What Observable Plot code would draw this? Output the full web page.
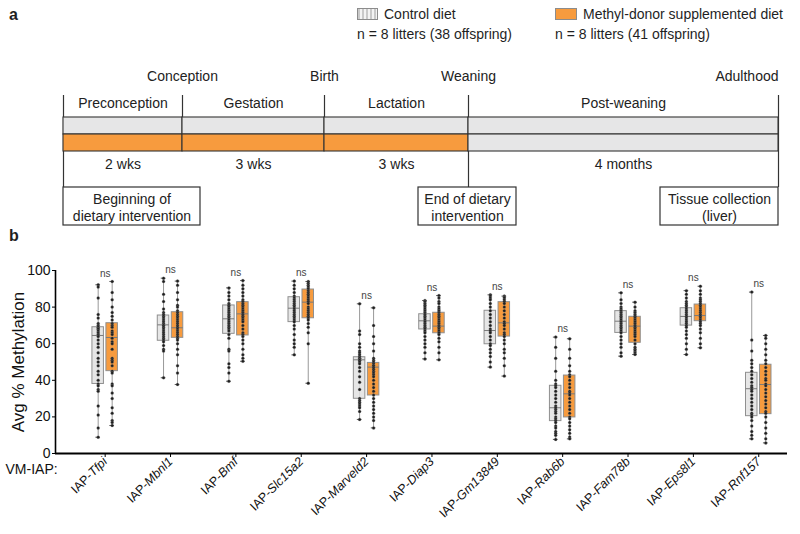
<!DOCTYPE html>
<html><head><meta charset="utf-8">
<script src="https://cdn.jsdelivr.net/npm/d3@7"></script>
<script src="https://cdn.jsdelivr.net/npm/@observablehq/plot@0.6"></script>
<style>
body{margin:0;background:#fff;font-family:"Liberation Sans",Arial,sans-serif;color:#1f1f1f}
#fig{position:relative;width:800px;height:534px;overflow:hidden;background:#fff}
#fig svg{position:absolute;left:0}
.t{position:absolute;white-space:nowrap;font-size:14px;line-height:14px}
.sw{position:absolute;box-sizing:border-box;border:1px solid #8c8c8c}
</style></head>
<body><div id="fig"></div>
<script>
// ---------- panel a : timeline ----------
const stages = ["Preconception", "Gestation", "Lactation", "Post-weaning"];
const stageStartWeek = [0, 2, 5, 8];
const stageEndWeek = [2, 5, 8, 25];
const stageDuration = ["2 wks", "3 wks", "3 wks", "4 months"];
const mdDietInStage = [true, true, true, false];
const events = ["", "Conception", "Birth", "Weaning", "Adulthood"];
const eventWeek = [0, 2, 5, 8, 25];
const diets = ["Control diet", "Methyl-donor supplemented diet"];
const litterText = ["n = 8 litters (38 offspring)", "n = 8 litters (41 offspring)"];

// ---------- panel b : box plots ----------
const genes = ["Tfpi", "Mbnl1", "Bmf", "Slc15a2", "Marveld2", "Diap3", "Gm13849", "Rab6b", "Fam78b", "Eps8l1", "Rnf157"];
const ctrlMin = [8.9, 41.4, 39.5, 53.9, 18.6, 51.7, 47.2, 7.7, 53.2, 54.1, 8.0];
const ctrlQ1 = [38.0, 61.6, 65.4, 71.8, 29.9, 67.8, 59.7, 17.7, 65.9, 69.9, 20.4];
const ctrlMedian = [64.5, 70.3, 73.6, 79.4, 51.2, 72.5, 67.2, 25.0, 72.3, 74.9, 35.4];
const ctrlQ3 = [69.0, 75.4, 80.9, 85.4, 52.6, 76.1, 78.0, 37.0, 77.8, 79.4, 44.1];
const ctrlMax = [92.2, 95.8, 90.5, 94.2, 81.8, 83.6, 86.7, 63.6, 87.8, 89.0, 88.2];
const mdMin = [15.3, 37.7, 50.4, 38.4, 14.0, 51.2, 42.3, 8.0, 54.1, 57.8, 5.8];
const mdQ1 = [45.0, 63.2, 64.5, 73.9, 31.7, 65.7, 63.9, 19.7, 60.5, 72.3, 21.5];
const mdMedian = [63.4, 68.7, 76.3, 82.7, 47.2, 69.6, 71.4, 32.6, 69.6, 75.4, 37.7];
const mdQ3 = [71.2, 77.2, 82.7, 89.6, 49.5, 76.9, 82.7, 42.6, 74.7, 81.4, 48.5];
const mdMax = [94.0, 94.2, 94.5, 94.0, 79.6, 86.3, 86.0, 62.7, 82.7, 91.4, 64.5];
const ctrlPoints = [
  [92.2, 91, 85, 76, 74, 71, 70, 69, 68, 68, 67, 66, 65, 64, 62, 60, 58, 55, 52, 50, 48, 45, 43, 40, 38, 37, 35, 34, 26, 21, 14, 8.9],
  [95.8, 94, 87, 83, 79, 77, 76, 75, 74, 73, 72, 71, 70, 70, 69, 68, 67, 66, 65, 64, 63, 62, 61, 59, 57, 56, 41.4],
  [90.5, 88, 86, 84, 82, 81, 80, 79, 78, 77, 76, 75, 74, 73, 72, 71, 70, 69, 68, 67, 65, 63, 57, 56, 49, 47, 44, 39.5],
  [94.2, 92, 90, 88, 86, 85, 84, 83, 82, 81, 80, 79, 78, 77, 76, 75, 74, 73, 72, 70, 68, 65, 62, 60, 58, 53.9],
  [81.8, 67, 65, 60, 58, 56, 55, 54, 53, 52, 52, 51, 51, 50, 49, 47, 45, 42, 39, 35, 30, 29, 28, 27, 26, 25, 23, 18.6],
  [83.6, 83, 82, 81, 80, 79, 78, 77, 76, 75, 74, 73, 72, 71, 70, 69, 68, 67, 66, 64, 62, 60, 58, 55, 51.7],
  [86.7, 86, 85, 84, 82, 80, 78, 76, 74, 72, 70, 68, 67, 66, 64, 62, 60, 59, 57, 55, 53, 50, 47.2],
  [63.6, 58, 52, 45, 40, 38, 37, 36, 34, 32, 30, 28, 26, 25, 24, 23, 22, 20, 19, 18, 17, 15, 14, 12, 11, 10, 7.7],
  [87.8, 84, 82, 80, 79, 78, 77, 76, 75, 74, 73, 72, 71, 70, 69, 68, 67, 66, 64, 62, 60, 58, 55, 53.2],
  [89.0, 87, 85, 83, 82, 81, 80, 79, 78, 77, 76, 75, 74, 73, 72, 71, 70, 69, 67, 65, 63, 60, 57, 54.1],
  [88.2, 62, 56, 51, 49, 47, 45, 43, 41, 39, 37, 36, 35, 34, 32, 30, 28, 26, 24, 22, 21, 20, 18, 15, 12, 10, 8.0]
];
const mdPoints = [
  [94.0, 88, 84, 80, 77, 75, 73, 71, 70, 69, 67, 66, 65, 63, 61, 60, 57, 52, 51, 50, 48, 45, 44, 38, 37, 33, 30, 25, 22, 18, 17, 15.3],
  [94.2, 92, 88, 84, 81, 80, 78, 77, 76, 75, 74, 73, 72, 71, 70, 69, 68, 67, 66, 65, 64, 63, 62, 60, 57, 54, 48, 44, 37.7],
  [94.5, 92, 90, 88, 86, 84, 83, 82, 81, 80, 79, 78, 77, 76, 75, 74, 73, 72, 70, 68, 66, 65, 64, 62, 60, 57, 54, 52, 50.4],
  [94.0, 93, 92, 91, 90, 89, 88, 87, 86, 85, 84, 83, 82, 80, 79, 78, 77, 76, 75, 74, 73, 71, 69, 66, 60, 38.4],
  [79.6, 70, 64, 60, 56, 52, 51, 50, 49, 48, 48, 47, 46, 45, 44, 43, 42, 40, 38, 36, 34, 32, 30, 28, 26, 24, 22, 20, 18, 14.0],
  [86.3, 85, 83, 82, 80, 79, 78, 77, 76, 75, 74, 73, 72, 71, 70, 69, 68, 67, 66, 65, 63, 61, 58, 55, 51.2],
  [86.0, 85.5, 85, 84, 83, 82, 80, 78, 76, 74, 72, 71, 70, 68, 66, 65, 64, 62, 60, 57, 55, 52, 48, 42.3],
  [62.7, 57, 52, 48, 45, 43, 42, 40, 38, 36, 34, 33, 32, 30, 28, 26, 24, 22, 20, 19, 17, 15, 13, 11, 9, 8.0],
  [82.7, 80, 78, 77, 76, 75, 74, 73, 72, 71, 70, 69, 68, 67, 66, 65, 64, 62, 60, 58, 57, 56, 55, 54.1],
  [91.4, 89, 87, 85, 84, 83, 82, 81, 80, 79, 78, 77, 76, 75, 74, 73, 72, 71, 70, 68, 66, 63, 60, 57.8],
  [64.5, 63, 60, 57, 54, 51, 49, 47, 45, 43, 41, 40, 38, 37, 35, 33, 31, 29, 27, 25, 23, 22, 20, 17, 14, 11, 8, 5.8]
];
const yTicks = [0, 20, 40, 60, 80, 100];

const ORANGE = "#f79b3e", GREY = "#e6e6e7", LINE = "#333";
const FONT = "'Liberation Sans', Arial, sans-serif";
const fig = document.getElementById("fig");

// ---------- panel a ----------
const stageRows = stages.map((s, i) => ({stage: s, start: stageStartWeek[i], end: stageEndWeek[i], dur: stageDuration[i], md: mdDietInStage[i]}));
const bandRows = [];
stageRows.forEach(s => {
  bandRows.push({diet: diets[0], start: s.start, end: s.end, fill: GREY});
  bandRows.push({diet: diets[1], start: s.start, end: s.end, fill: s.md ? ORANGE : GREY});
});
const eventRows = events.map((e, i) => ({event: e, week: eventWeek[i], long: i === 0 || i >= 3}));
const T = {frameAnchor: "top", lineAnchor: "middle", fontSize: 14};

const timeline = Plot.plot({
  width: 800, height: 175, margin: 0,
  style: {fontFamily: FONT, fontSize: "14px", background: "none", color: "#222"},
  x: {type: "linear", domain: eventWeek, range: [63, 182, 324, 468, 778], axis: null},
  y: {type: "band", domain: diets, range: [57, 91], padding: 0, axis: null},
  marks: [
    Plot.ruleX(eventRows.filter(d => d.long), {x: "week", insetTop: 35, insetBottom: 48, stroke: LINE, strokeWidth: 1.2}),
    Plot.ruleX(eventRows.filter(d => !d.long), {x: "week", insetTop: 35, insetBottom: 84, stroke: LINE, strokeWidth: 1.2}),
    Plot.barX(bandRows, {x1: "start", x2: "end", y: "diet", fill: "fill", stroke: LINE, strokeWidth: 1.1}),
    Plot.text(eventRows.filter(d => d.week < 25), {...T, x: "week", text: "event", dy: 16}),
    Plot.text(eventRows.filter(d => d.week === 25), {...T, x: "week", text: "event", dy: 16, textAnchor: "end"}),
    Plot.text(stageRows, {...T, x: d => (d.start + d.end) / 2, text: "stage", dy: 43}),
    Plot.text(stageRows, {...T, x: d => (d.start + d.end) / 2, text: "dur", dy: 104}),
    Plot.rect([eventWeek[0]], {x1: d => d, x2: d => d, insetLeft: 0, insetRight: -137, insetTop: 127, insetBottom: 10, fill: "white", stroke: LINE, strokeWidth: 1.2}),
    Plot.rect([eventWeek[3]], {x1: d => d, x2: d => d, insetLeft: -50, insetRight: -48, insetTop: 127, insetBottom: 10, fill: "white", stroke: LINE, strokeWidth: 1.2}),
    Plot.rect([eventWeek[4]], {x1: d => d, x2: d => d, insetLeft: -118, insetRight: 0, insetTop: 127, insetBottom: 10, fill: "white", stroke: LINE, strokeWidth: 1.2}),
    Plot.text([eventWeek[0]], {...T, x: d => d, text: () => "Beginning of\ndietary intervention", dy: 146.5, dx: 68.5, lineHeight: 1.2}),
    Plot.text([eventWeek[3]], {...T, x: d => d, text: () => "End of dietary\nintervention", dy: 146.5, dx: -1, lineHeight: 1.2}),
    Plot.text([eventWeek[4]], {...T, x: d => d, text: () => "Tissue collection\n(liver)", dy: 146.5, dx: -59, lineHeight: 1.2})
  ]
});
timeline.style.top = "60px";
fig.appendChild(timeline);

// ---------- panel b ----------
const xMin = -0.76, xMax = 10.44;
const off = 0.107, hw = 0.088, cap = 0.035;
function rows(mn, q1, med, q3, mx, shift) {
  return genes.map((g, i) => ({i, x: i + shift, min: mn[i], q1: q1[i], med: med[i], q3: q3[i], max: mx[i]}));
}
const ctrlRows = rows(ctrlMin, ctrlQ1, ctrlMedian, ctrlQ3, ctrlMax, -off);
const mdRows = rows(mdMin, mdQ1, mdMedian, mdQ3, mdMax, off);
const allRows = ctrlRows.concat(mdRows);
const pts = [];
ctrlPoints.forEach((arr, i) => arr.forEach(v => pts.push({x: i - off, y: v})));
mdPoints.forEach((arr, i) => arr.forEach(v => pts.push({x: i + off, y: v})));
const nsRows = genes.map((g, i) => ({x: i, y: Math.max(ctrlMax[i], mdMax[i])}));

const boxes = Plot.plot({
  width: 800, height: 294, marginTop: 30, marginBottom: 81, marginLeft: 55, marginRight: 13,
  style: {fontFamily: FONT, fontSize: "14px", background: "none", color: "#111", overflow: "visible"},
  x: {type: "linear", domain: [xMin, xMax]},
  y: {domain: [0, 100]},
  marks: [
    Plot.ruleX(allRows, {x: "x", y1: "min", y2: "max", stroke: "#8c8c8c", strokeWidth: 0.9}),
    Plot.ruleY(allRows, {y: "min", x1: d => d.x - cap, x2: d => d.x + cap, stroke: "#555", strokeWidth: 1}),
    Plot.ruleY(allRows, {y: "max", x1: d => d.x - cap, x2: d => d.x + cap, stroke: "#555", strokeWidth: 1}),
    Plot.rect(ctrlRows, {x1: d => d.x - hw, x2: d => d.x + hw, y1: "q1", y2: "q3", fill: "#e2e2e2", fillOpacity: 0.85, stroke: "#8f8f8f", strokeWidth: 1}),
    Plot.rect(mdRows, {x1: d => d.x - hw, x2: d => d.x + hw, y1: "q1", y2: "q3", fill: ORANGE, stroke: "#8f8f8f", strokeWidth: 1}),
    Plot.ruleY(allRows, {y: "med", x1: d => d.x - hw, x2: d => d.x + hw, stroke: "#7a7a7a", strokeWidth: 1}),
    Plot.dot(pts, {x: "x", y: "y", r: 1.5, fill: "#1e1e1e", stroke: "#888", strokeWidth: 0.5, strokeOpacity: 0.6}),
    Plot.text(nsRows, {x: "x", y: "y", text: () => "ns", dy: -8, fontSize: 10, fill: "#444"}),
    Plot.ruleY([0], {stroke: "#000", strokeWidth: 2}),
    Plot.ruleX([xMin], {y1: 0, y2: 100, stroke: "#000", strokeWidth: 1.6}),
    Plot.axisY({ticks: yTicks, tickSize: 3, tickPadding: 2, fontSize: 14, label: null, stroke: "#000"}),
    Plot.axisX({ticks: genes.map((g, i) => i), tickFormat: i => "IAP-" + genes[i], tickRotate: -45, tickSize: 4, tickPadding: 2, fontSize: 12.5, label: null, stroke: "#000"}),
    Plot.text(["Avg % Methylation"], {frameAnchor: "left", dx: -37, rotate: -90, text: d => d, textAnchor: "middle", lineAnchor: "middle", fontSize: 17, fill: "#111"}),
    Plot.text(["VM-IAP:"], {frameAnchor: "bottom-left", dx: -50, dy: 16, text: d => d, textAnchor: "start", lineAnchor: "middle", fontSize: 14, fill: "#111"})
  ]
});
boxes.style.top = "240px";
fig.appendChild(boxes);
// italic gene names
boxes.querySelectorAll('g[aria-label="x-axis tick label"] text').forEach(t => {
  const s = t.textContent;
  if (s.startsWith("IAP-")) {
    t.textContent = "IAP-";
    const ts = document.createElementNS("http://www.w3.org/2000/svg", "tspan");
    ts.setAttribute("font-style", "italic");
    ts.textContent = s.slice(4);
    t.appendChild(ts);
  }
});

// ---------- html labels / legend ----------
function addText(txt, left, top, extra) {
  const d = document.createElement("div");
  d.className = "t"; d.textContent = txt;
  d.style.left = left + "px"; d.style.top = top + "px";
  if (extra) Object.assign(d.style, extra);
  fig.appendChild(d);
}
function addSwatch(left, top, w, h, bg) {
  const d = document.createElement("div");
  d.className = "sw";
  Object.assign(d.style, {left: left + "px", top: top + "px", width: w + "px", height: h + "px", background: bg});
  fig.appendChild(d);
}
addText("a", 9, 7, {fontWeight: "bold", fontSize: "16px", lineHeight: "16px"});
addText("b", 9, 228, {fontWeight: "bold", fontSize: "16px", lineHeight: "16px"});
addSwatch(357, 8, 21, 12, "repeating-linear-gradient(90deg,#c9c9c9 0 2px,#f3f3f3 2px 4px)");
addText(diets[0], 384, 7);
addText(litterText[0], 357, 27);
addSwatch(555, 8, 22, 12, ORANGE);
addText(diets[1], 583, 7);
addText(litterText[1], 555, 27);
</script></body></html>
